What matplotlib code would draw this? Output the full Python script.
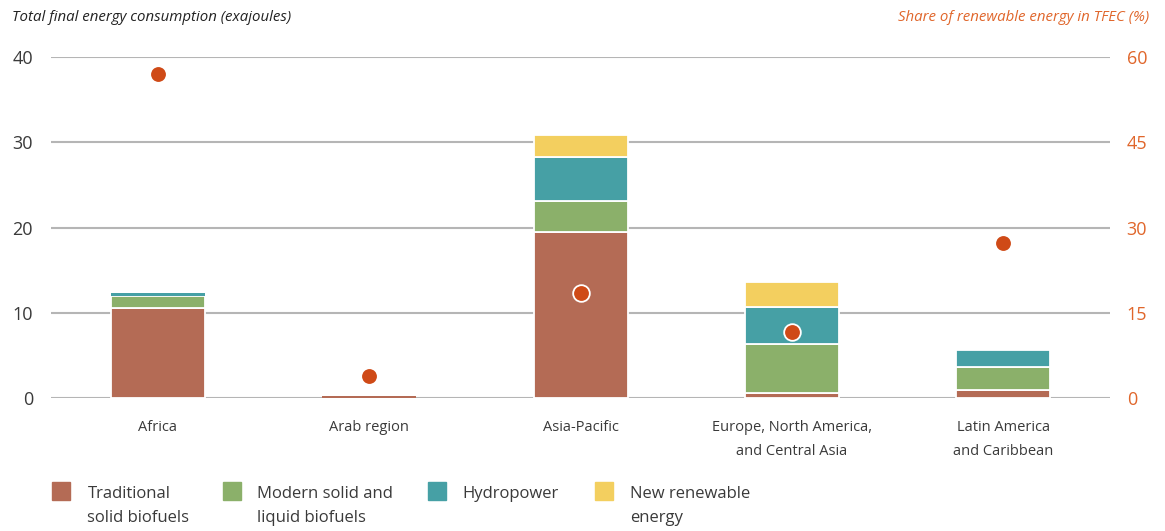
import numpy as np
import matplotlib
matplotlib.use("Agg")
import matplotlib.pyplot as plt
from matplotlib.patches import Rectangle

plt.rcParams['font.family'] = ['Open Sans', 'DejaVu Sans']

# data (exajoules)
regions = ['Africa', 'Arab region', 'Asia-Pacific',
           'Europe, North America,\nand Central Asia', 'Latin America\nand Caribbean']
traditional = [10.6, 0.2, 19.5, 0.55, 0.95]
modern = [1.35, 0.0, 3.6, 5.75, 2.65]
hydro = [0.4, 0.0, 5.2, 4.4, 2.0]
new_renew = [0.0, 0.05, 2.55, 2.95, 0.05]
share_pct = [57.0, 3.9, 18.4, 11.7, 27.2]

series_names = ['Traditional\nsolid biofuels', 'Modern solid and\nliquid biofuels',
                'Hydropower', 'New renewable\nenergy']
colors = ['#B46B55', '#8BB06A', '#46A0A5', '#F3CF5F']
dot_color = '#CF4A17'
right_color = '#E0662B'
grid_color = '#B5B5B5'
text_color = '#3A3A3A'

fig = plt.figure(figsize=(11.65, 5.31), dpi=100)
ax = fig.add_axes([0.0438, 0.2505, 0.909, 0.642])
ax2 = ax.twinx()

x = np.arange(len(regions))
width = 0.445
bottom = np.zeros(len(regions))
for vals, c in zip([traditional, modern, hydro, new_renew], colors):
    vals = np.array(vals)
    # white separators only on segments big enough to show them
    lw = np.where(vals > 0.5, 1.3, 0.0)
    ax.bar(x, vals, width, bottom=bottom, color=c, edgecolor='white',
           linewidth=lw, zorder=3)
    bottom += vals

ax2.plot(x, share_pct, 'o', color=dot_color, markersize=12,
         markeredgecolor='white', markeredgewidth=1.3, zorder=5, clip_on=False)

ax.set_xlim(-0.506, 4.506)
ax.set_ylim(0, 40)
ax2.set_ylim(0, 60)
ax.set_yticks([0, 10, 20, 30, 40])
ax2.set_yticks([0, 15, 30, 45, 60])
ax.yaxis.grid(True, color=grid_color, linewidth=1.5, zorder=0)
ax.set_axisbelow(True)

ax.set_xticks(x)
ax.set_xticklabels(regions, fontsize=10.5, color=text_color, linespacing=1.8)
ax.tick_params(axis='x', length=0, pad=16)
ax.tick_params(axis='y', length=0, pad=13, labelsize=13, labelcolor=text_color)
ax2.tick_params(axis='y', length=0, pad=12, labelsize=13, labelcolor=right_color)

for a in (ax, ax2):
    for s in a.spines.values():
        s.set_visible(False)

fig.text(0.010, 0.967, 'Total final energy consumption (exajoules)', fontsize=10.8,
         style='italic', color='#222222', va='center', ha='left')
fig.text(0.986, 0.967, 'Share of renewable energy in TFEC (%)', fontsize=10.8,
         style='italic', color=right_color, va='center', ha='right')

# legend drawn by hand along the bottom
leg_x = [0.045, 0.191, 0.367, 0.511]
for lx, c, name in zip(leg_x, colors, series_names):
    fig.patches.append(Rectangle((lx, 0.058), 0.0155, 0.034, color=c,
                                 transform=fig.transFigure, figure=fig))
    fig.text(lx + 0.03, 0.085, name, fontsize=12, color=text_color,
             va='top', ha='left', linespacing=1.65)

fig.savefig('out.png', dpi=100, facecolor='white')
